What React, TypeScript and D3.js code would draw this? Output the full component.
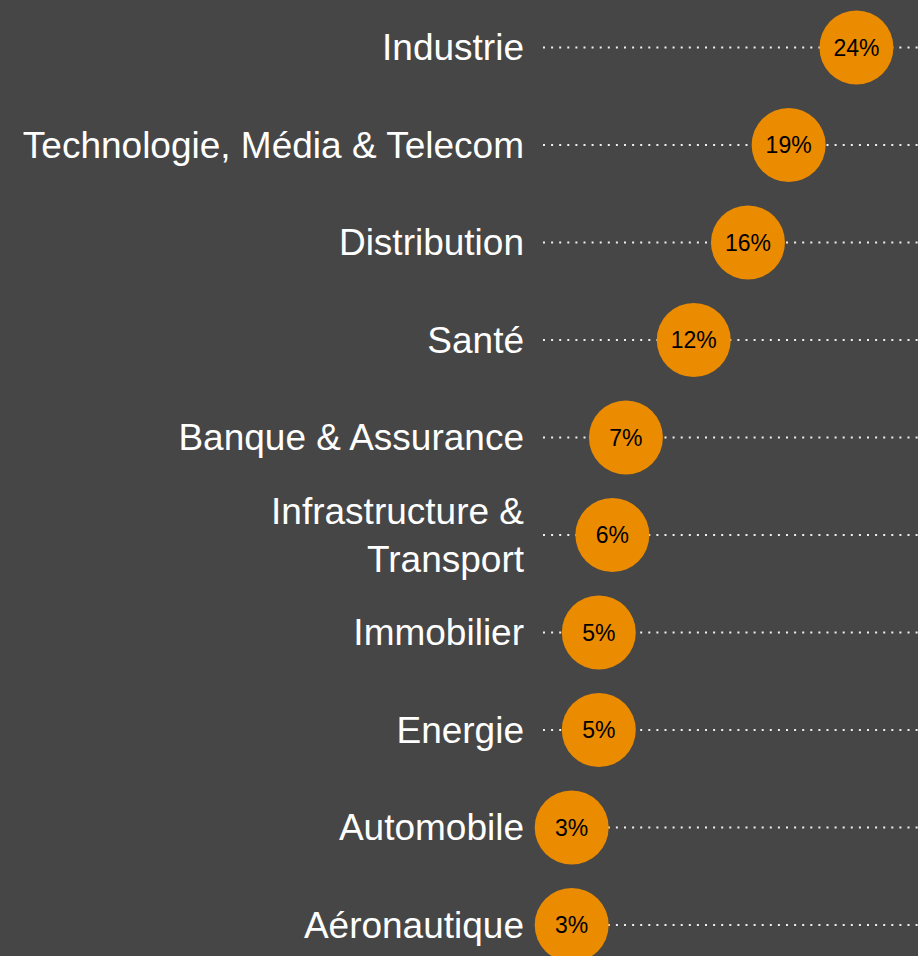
import React from "react";
import * as d3 from "d3";

const categories: string[][] = [
  ["Industrie"],
  ["Technologie, Média & Telecom"],
  ["Distribution"],
  ["Santé"],
  ["Banque & Assurance"],
  ["Infrastructure &", "Transport"],
  ["Immobilier"],
  ["Energie"],
  ["Automobile"],
  ["Aéronautique"],
];
const values: number[] = [24, 19, 16, 12, 7, 6, 5, 5, 3, 3];

const W = 918;
const H = 956;
const BG = "#464646";
const ORANGE = "#EA8B00";
const FONT = "'Liberation Sans', Arial, Helvetica, sans-serif";

export default function App() {
  const y = d3
    .scalePoint<number>()
    .domain(d3.range(values.length))
    .range([47.5, 925]);
  const x = d3.scaleLinear().domain([0, 25]).range([531, 870]);
  const r = 37;
  const labelX = 524;
  const lineStart = 543;
  const lineH = 48;

  return (
    <svg
      width={W}
      height={H}
      style={{ position: "absolute", left: 0, top: 0, display: "block" }}
    >
      <rect x={0} y={0} width={W} height={H} fill={BG} />
      {values.map((v, i) => {
        const cy = y(i)!;
        const lines = categories[i];
        const off = -((lines.length - 1) * lineH) / 2;
        return (
          <g key={i}>
            <line
              x1={lineStart}
              x2={W}
              y1={cy}
              y2={cy}
              stroke="#f0f0f0"
              strokeWidth={2}
              strokeDasharray="2 6.1"
            />
            <text
              x={labelX}
              y={cy + off}
              textAnchor="end"
              fill="#ffffff"
              style={{ fontFamily: FONT, fontSize: "37px" }}
            >
              {lines.map((t, k) => (
                <tspan key={k} x={labelX} y={cy + off + k * lineH} dy="0.35em">
                  {t}
                </tspan>
              ))}
            </text>
            <circle cx={x(v)} cy={cy} r={r} fill={ORANGE} />
            <text
              x={x(v)}
              y={cy}
              dy="0.35em"
              textAnchor="middle"
              fill="#000000"
              style={{ fontFamily: FONT, fontSize: "23px" }}
            >
              {v}%
            </text>
          </g>
        );
      })}
    </svg>
  );
}
